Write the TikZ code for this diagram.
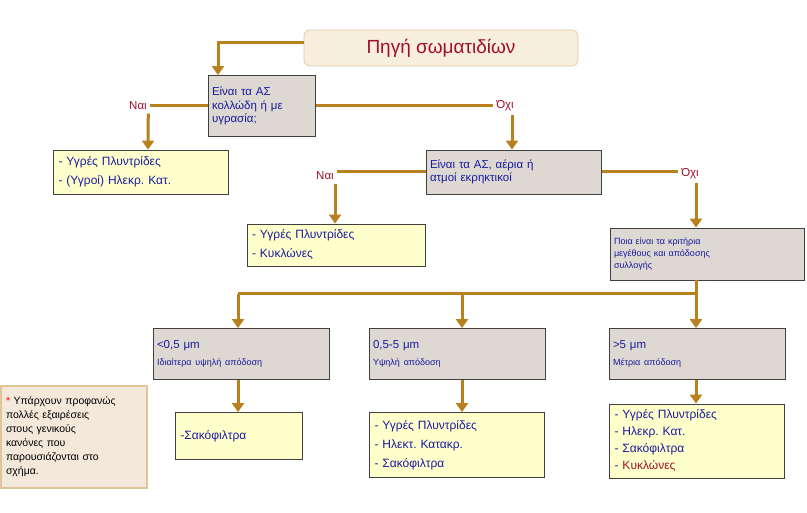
\documentclass[tikz,border=0pt]{standalone}
\usepackage{fontspec}
\setmainfont{Liberation Sans}
\usetikzlibrary{arrows.meta,positioning}
\definecolor{arrowc}{HTML}{B8801E}
\definecolor{greybox}{HTML}{DDD8D2}
\definecolor{yellowbox}{HTML}{FFFFCC}
\definecolor{titlefill}{HTML}{F8EEDD}
\definecolor{notefill}{HTML}{F3E8DA}
\definecolor{bluetxt}{HTML}{1A1AA0}
\definecolor{redtxt}{HTML}{A0102A}
\frenchspacing

\begin{document}
\begin{tikzpicture}[x=1pt,y=-1pt,
	question/.style={draw=black!75, fill=greybox, thick, text=bluetxt, align=left,
		font=\fontsize{11.5}{13.5}\selectfont, inner sep=3pt},
	answer/.style={draw=black!75, fill=yellowbox, thick, text=bluetxt, align=left,
		font=\fontsize{12}{19}\selectfont, inner sep=4pt},
	label/.style={text=redtxt, font=\fontsize{11.5}{13}\selectfont},
	flow/.style={draw=arrowc, line width=3pt},
	flowarrow/.style={flow, -{Triangle[length=9pt,width=12pt]}}
]
\useasboundingbox[fill=white] (0,0) rectangle (807,513);

%title
\node[draw=arrowc!40, fill=titlefill, thick, rounded corners=6pt, minimum width=274pt,
	minimum height=36pt, text=redtxt, font=\fontsize{19}{22}\selectfont]
	(source) at (441,48) {Πηγή σωματιδίων};

%questions
\node[question, minimum width=107pt, minimum height=61pt, text width=100pt] (q1) at (262,106)
	{Είναι τα ΑΣ\\κολλώδη ή με\\υγρασία;};
\node[question, minimum width=175pt, minimum height=44pt, text width=168pt] (q2) at (514,172)
	{Είναι τα ΑΣ, αέρια ή\\ατμοί εκρηκτικοί};
\node[question, minimum width=194pt, minimum height=52pt, text width=186pt,
	font=\fontsize{9}{12}\selectfont] (q3) at (707,254)
	{Ποια είναι τα κριτήρια\\μεγέθους και απόδοσης\\συλλογής};

%size classes
\foreach \name/\cx/\sz/\eff in {b1/241/<0{,}5 μm/Ιδιαίτερα υψηλή απόδοση,
	b2/457/0{,}5-5 μm/Υψηλή απόδοση, b3/697/>5 μm/Μέτρια απόδοση}
	\node[question, minimum width=176pt, minimum height=51pt, text width=168pt] (\name) at (\cx,354)
		{\sz\\[4pt]{\fontsize{9}{10}\selectfont\eff}};

%answers
\node[answer, minimum width=175pt, minimum height=44pt, text width=165pt] (a1) at (141,172)
	{- Υγρές Πλυντρίδες\\- (Υγροί) Ηλεκρ. Κατ.};
\node[answer, minimum width=178pt, minimum height=42pt, text width=168pt] (a2) at (336,245)
	{- Υγρές Πλυντρίδες\\- Κυκλώνες};
\node[answer, minimum width=127pt, minimum height=47pt, text width=117pt] (c1) at (239,436)
	{-Σακόφιλτρα};
\node[answer, minimum width=175pt, minimum height=65pt, text width=165pt] (c2) at (457,445)
	{- Υγρές Πλυντρίδες\\- Ηλεκτ. Κατακρ.\\- Σακόφιλτρα};
\node[answer, minimum width=175pt, minimum height=74pt, text width=165pt,
	font=\fontsize{12}{17}\selectfont] (c3) at (697,441)
	{- Υγρές Πλυντρίδες\\- Ηλεκρ. Κατ.\\- Σακόφιλτρα\\- \textcolor{redtxt}{Κυκλώνες}};

%note
\node[draw=arrowc!45, fill=notefill, line width=2pt, minimum width=146pt, minimum height=102pt,
	text width=136pt, align=left, font=\fontsize{10.5}{14}\selectfont] (note) at (74,437)
	{\textcolor{red}{*} Υπάρχουν προφανώς\\πολλές εξαιρέσεις\\στους γενικούς\\κανόνες που\\παρουσιάζονται στο\\σχήμα.};

%yes / no labels
\node[label] (yes1) at (138,106) {Ναι};
\node[label] (no1) at (505,106) {Όχι};
\node[label] (yes2) at (325,176) {Ναι};
\node[label] (no2) at (690,174) {Όχι};

%connectors
\coordinate (t1) at (218,43);
\coordinate (j1) at (696,294);
\draw[flowarrow] (source.west |- t1) -| (q1.north -| t1);
\draw[flow] (q1.west) -- (q1.west -| yes1.east);
\draw[flowarrow] (yes1.south east) ++(-2,0) -- (a1.north -| 148,0);
\draw[flow] (q1.east) -- (q1.east -| no1.west);
\draw[flowarrow] (no1.south) ++(7,0) -- (q2.north -| 512,0);
\draw[flow] (q2.west) -- (q2.west -| yes2.east);
\draw[flowarrow] (yes2.south) ++(10,0) -- (a2.north -| 335,0);
\draw[flow] (q2.east) -- (q2.east -| no2.west);
\draw[flowarrow] (no2.south) ++(6,0) -- (q3.north -| 696,0);
\draw[flow] (q3.south -| j1) -- (j1) -- (j1 -| 238,0);
\draw[flowarrow] (j1 -| 238,0) -- (b1.north -| 238,0);
\draw[flowarrow] (j1 -| 462,0) -- (b2.north -| 462,0);
\draw[flowarrow] (j1) -- (b3.north -| j1);
\draw[flowarrow] (b1.south -| 238,0) -- (c1.north -| 238,0);
\draw[flowarrow] (b2.south -| 462,0) -- (c2.north -| 462,0);
\draw[flowarrow] (b3.south -| j1) -- (c3.north -| j1);
\end{tikzpicture}
\end{document}
